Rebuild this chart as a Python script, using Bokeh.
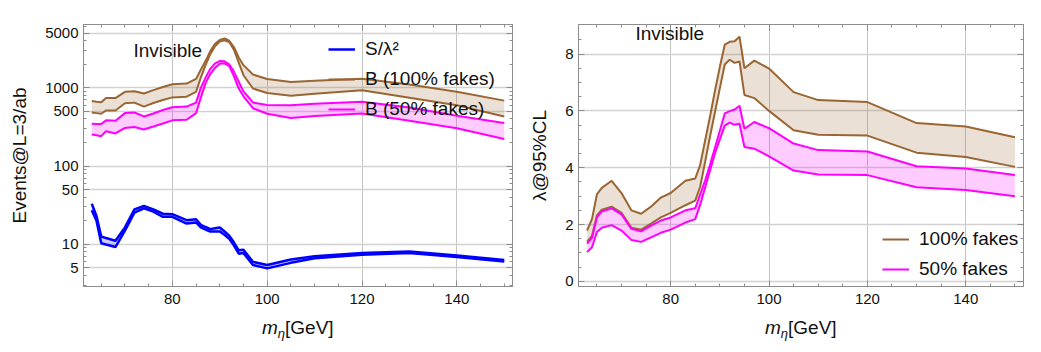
from bokeh.plotting import figure
from bokeh.models import (Range1d, FixedTicker, LinearAxis, LogAxis, Label, Legend,
                          LegendItem, PrintfTickFormatter, CustomJSTickFormatter, Div)
from bokeh.layouts import row, column
from bokeh.embed import file_html
from bokeh.resources import INLINE

# ---------------- data ----------------
mass = [63, 64, 65, 66, 68, 70, 72, 74, 76, 78, 80, 83, 85, 86, 87, 88, 89, 90, 91,
        92, 93, 94, 95, 97, 100, 105, 110, 120, 130, 140, 150]

# left panel: events at L = 3/ab
ev_b100_hi = [679, 665, 653, 740, 740, 890, 907, 848, 935, 1025, 1110, 1133, 1300, 1700,
              2200, 2950, 3650, 4100, 4280, 4000, 3300, 2450, 1950, 1480, 1300, 1190, 1230,
              1310, 1100, 890, 686]
ev_b100_lo = [484, 475, 466, 513, 513, 634, 647, 576, 640, 700, 755, 770, 890, 1350, 1950,
              2700, 3400, 3900, 4060, 3850, 3050, 2100, 1450, 980, 860, 790, 840, 933, 748,
              600, 431]
ev_b50_hi = [348, 346, 345, 384, 380, 475, 484, 431, 470, 520, 565, 576, 647, 1000, 1350,
             1750, 2050, 2200, 2190, 2000, 1600, 1200, 900, 650, 604, 600, 625, 666, 560,
             440, 355]
ev_b50_lo = [253, 247, 241, 279, 261, 307, 316, 293, 320, 350, 384, 391, 475, 750, 1150,
             1500, 1800, 2030, 2060, 1900, 1400, 980, 780, 549, 466, 411, 435, 470, 380, 305,
             222]
sig_hi = [33.0, 23.0, 12.5, 12.0, 11.1, 16.4, 27.9, 30.8, 27.9, 24.6, 24.2, 20.3, 20.9,
          17.7, 16.6, 15.6, 16.0, 16.4, 14.6, 12.9, 10.5, 8.35, 8.5, 5.95, 5.41, 6.37, 7.0,
          7.75, 8.1, 7.2, 6.3]
sig_lo = [27.2, 19.9, 10.3, 9.9, 9.2, 14.9, 25.4, 28.8, 26.1, 22.4, 22.4, 18.4, 19.0, 16.4,
          15.4, 14.5, 14.5, 14.6, 13.2, 11.7, 9.6, 7.57, 7.7, 5.41, 4.91, 5.78, 6.6, 7.35,
          7.7, 6.85, 6.0]

# right panel: lambda at 95% CL
lam_b100_hi = [1.79, 2.19, 3.06, 3.29, 3.54, 3.11, 2.50, 2.38, 2.63, 2.95, 3.11, 3.54, 3.62,
               4.10, 4.95, 5.80, 6.70, 7.55, 8.33, 8.43, 8.45, 8.61, 7.50, 7.77, 7.49, 6.66,
               6.38, 6.31, 5.57, 5.45, 5.07]
lam_b100_lo = [1.40, 1.60, 2.32, 2.52, 2.63, 2.41, 1.89, 1.82, 2.03, 2.25, 2.41, 2.68, 2.84,
               3.33, 4.20, 5.10, 5.95, 6.80, 7.63, 7.80, 7.69, 7.74, 6.56, 6.45, 6.00, 5.32,
               5.16, 5.13, 4.53, 4.38, 4.03]
lam_b50_hi = [1.33, 1.53, 2.25, 2.46, 2.57, 2.36, 1.85, 1.76, 1.96, 2.14, 2.25, 2.50, 2.57,
              3.06, 3.55, 4.10, 4.70, 5.30, 5.91, 5.99, 6.05, 6.18, 5.37, 5.61, 5.39, 4.85,
              4.62, 4.57, 4.05, 3.97, 3.74]
lam_b50_lo = [1.03, 1.20, 1.74, 1.89, 1.98, 1.79, 1.46, 1.39, 1.55, 1.71, 1.82, 2.07, 2.19,
              2.70, 3.30, 3.90, 4.50, 5.00, 5.48, 5.59, 5.51, 5.55, 4.73, 4.67, 4.40, 3.90,
              3.76, 3.74, 3.31, 3.22, 3.00]

x_ticks = [80, 100, 120, 140]
x_minor = [65, 70, 75, 85, 90, 95, 105, 110, 115, 125, 130, 135, 145, 150]
ev_ticks = [5, 10, 50, 100, 500, 1000, 5000]
ev_minor = [3, 4, 6, 7, 8, 9, 20, 30, 40, 60, 70, 80, 90, 200, 300, 400, 600, 700, 800,
            900, 2000, 3000, 4000, 6000]
lam_ticks = [0, 2, 4, 6, 8]
lam_minor = [0.5, 1, 1.5, 2.5, 3, 3.5, 4.5, 5, 5.5, 6.5, 7, 7.5, 8.5]

# ---------------- style ----------------
FONT = "Liberation Sans"
BROWN = "#996633"
MAG = "#ff00ff"
BLUE = "#0000ff"
AX = "#8c8c8c"
H = 320


def style_axis(ax, ticker, labels):
    ax.ticker = ticker
    ax.axis_line_color = AX
    ax.major_tick_line_color = AX
    ax.minor_tick_line_color = AX
    ax.major_tick_in = 6
    ax.major_tick_out = 0
    ax.minor_tick_in = 3
    ax.minor_tick_out = 0
    if labels:
        ax.formatter = PrintfTickFormatter(format="%d")
        ax.major_label_text_font = FONT
        ax.major_label_text_font_size = "15px"
        ax.major_label_text_color = "#111111"
    else:
        ax.formatter = CustomJSTickFormatter(code="return ''")
        ax.major_label_text_font_size = "1px"
        ax.major_label_standoff = 0


def setup(p, xt, yt, ylog):
    p.outline_line_color = AX
    style_axis(p.xaxis[0], xt, True)
    style_axis(p.yaxis[0], yt, True)
    p.xaxis[0].major_label_standoff = 7
    p.yaxis[0].major_label_standoff = 5
    p.yaxis[0].axis_label_text_font = FONT
    p.yaxis[0].axis_label_text_font_size = "19px"
    p.yaxis[0].axis_label_text_font_style = "normal"
    p.yaxis[0].axis_label_text_color = "#111111"
    p.yaxis[0].axis_label_standoff = 12
    top = LinearAxis()
    style_axis(top, xt, False)
    right = LogAxis() if ylog else LinearAxis()
    style_axis(right, yt, False)
    p.add_layout(top, "above")
    p.add_layout(right, "right")
    p.xgrid.ticker = xt
    p.ygrid.ticker = yt
    p.xgrid.grid_line_color = "#c4c4c4"
    p.ygrid.grid_line_color = "#d2d2d2"
    p.xgrid.grid_line_width = 1
    p.ygrid.grid_line_width = 1.3


def legend(p, items, loc):
    lg = Legend(items=items, location=loc, padding=0, margin=0, spacing=8,
                glyph_width=27, glyph_height=20, label_height=20, label_standoff=10,
                label_text_font=FONT, label_text_font_size="19px",
                label_text_color="#111111",
                background_fill_alpha=0, border_line_alpha=0)
    p.add_layout(lg)


def xlabel_div(width, left):
    html = ('<div style="margin-left:%dpx; font-family:\'Liberation Sans\'; font-size:19px; '
            'line-height:16px; color:#111111; white-space:nowrap;">'
            '<i>m</i><i style="font-size:13px; position:relative; top:4px;">η</i>[GeV]</div>'
            % left)
    return Div(text=html, width=width, height=16, margin=0)


# ---------------- left panel ----------------
xt = FixedTicker(ticks=x_ticks, minor_ticks=x_minor)
p1 = figure(width=520, height=H, y_axis_type="log",
            x_range=Range1d(61.26, 151.74), y_range=Range1d(2.88, 6457),
            output_backend="svg", toolbar_location=None,
            min_border_left=83, min_border_right=8, min_border_top=24, min_border_bottom=34)
setup(p1, xt, FixedTicker(ticks=ev_ticks, minor_ticks=ev_minor), True)
p1.yaxis[0].axis_label = "Events@L=3/ab"

p1.varea(x=mass, y1=ev_b100_lo, y2=ev_b100_hi, fill_color=BROWN, fill_alpha=0.2)
p1.varea(x=mass, y1=ev_b50_lo, y2=ev_b50_hi, fill_color=MAG, fill_alpha=0.2)
p1.varea(x=mass, y1=sig_lo, y2=sig_hi, fill_color=BLUE, fill_alpha=0.2)
rb = p1.line(mass, ev_b100_hi, line_color=BROWN, line_width=2)
p1.line(mass, ev_b100_lo, line_color=BROWN, line_width=2)
rm = p1.line(mass, ev_b50_hi, line_color=MAG, line_width=2)
p1.line(mass, ev_b50_lo, line_color=MAG, line_width=2)
rs = p1.line(mass, sig_hi, line_color=BLUE, line_width=2.5)
p1.line(mass, sig_lo, line_color=BLUE, line_width=2.5)

legend(p1, [LegendItem(label="S/λ²", renderers=[rs]),
            LegendItem(label="B (100% fakes)", renderers=[rb]),
            LegendItem(label="B (50% fakes)", renderers=[rm])], (245, 166))
p1.add_layout(Label(x=50, y=236, x_units="screen", y_units="screen", text="Invisible",
                    text_font=FONT, text_font_size="19px", text_color="#111111",
                    text_baseline="middle"))

# ---------------- right panel ----------------
p2 = figure(width=505, height=H,
            x_range=Range1d(61.26, 151.74), y_range=Range1d(-0.18, 9.04),
            output_backend="svg", toolbar_location=None,
            min_border_left=58, min_border_right=2, min_border_top=5, min_border_bottom=34)
setup(p2, FixedTicker(ticks=x_ticks, minor_ticks=x_minor),
      FixedTicker(ticks=lam_ticks, minor_ticks=lam_minor), False)
p2.yaxis[0].axis_label = "λ@95%CL"

p2.varea(x=mass, y1=lam_b100_lo, y2=lam_b100_hi, fill_color=BROWN, fill_alpha=0.2)
p2.varea(x=mass, y1=lam_b50_lo, y2=lam_b50_hi, fill_color=MAG, fill_alpha=0.2)
r2b = p2.line(mass, lam_b100_hi, line_color=BROWN, line_width=2)
p2.line(mass, lam_b100_lo, line_color=BROWN, line_width=2)
r2m = p2.line(mass, lam_b50_hi, line_color=MAG, line_width=2)
p2.line(mass, lam_b50_lo, line_color=MAG, line_width=2)

legend(p2, [LegendItem(label="100% fakes", renderers=[r2b]),
            LegendItem(label="50% fakes", renderers=[r2m])], (304, 6))
p2.add_layout(Label(x=57, y=253, x_units="screen", y_units="screen", text="Invisible",
                    text_font=FONT, text_font_size="19px", text_color="#111111",
                    text_baseline="middle"))

layout = column(row(p1, p2), row(xlabel_div(520, 262), xlabel_div(505, 245)))
open("out.html", "w").write(file_html(layout, INLINE))
